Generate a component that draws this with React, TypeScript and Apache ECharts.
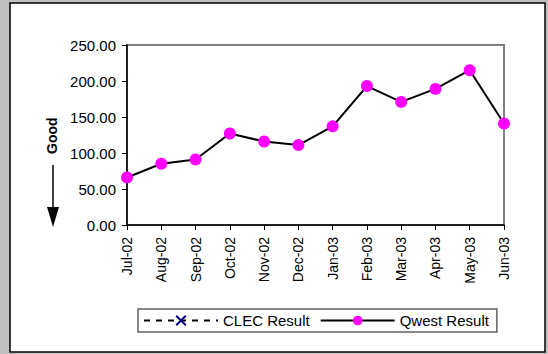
import React, { useEffect, useRef } from "react";
import * as echarts from "echarts";

const categories = [
  "Jul-02", "Aug-02", "Sep-02", "Oct-02", "Nov-02", "Dec-02",
  "Jan-03", "Feb-03", "Mar-03", "Apr-03", "May-03", "Jun-03",
];
const qwestValues = [66, 85, 91, 127, 116, 111, 137, 193, 171, 189, 215, 141];
const clecValues: (number | null)[] = [null, null, null, null, null, null, null, null, null, null, null, null];
const yMin = 0;
const yMax = 250;
const yInterval = 50;

const FONT = "'Liberation Sans', Arial, sans-serif";

export default function App() {
  const ref = useRef<HTMLDivElement>(null);
  useEffect(() => {
    if (!ref.current) return;
    const chart = echarts.init(ref.current, undefined, { renderer: "svg" });
    chart.setOption({
      animation: false,
      backgroundColor: "#c0c0c0",
      textStyle: { fontFamily: FONT },
      graphic: [
        {
          type: "rect",
          z: -10,
          shape: { x: 10, y: 3, width: 535, height: 349 },
          style: { fill: "#ffffff", stroke: "#000000", lineWidth: 1.5 },
        },
        {
          type: "text",
          x: 52,
          y: 154,
          rotation: Math.PI / 2,
          style: {
            text: "Good",
            font: `bold 14px ${FONT}`,
            fill: "#000000",
            align: "left",
            verticalAlign: "middle",
          },
        },
        {
          type: "line",
          shape: { x1: 53, y1: 165, x2: 53, y2: 210 },
          style: { stroke: "#000000", lineWidth: 1.5 },
        },
        {
          type: "polygon",
          shape: { points: [[47, 207], [59, 207], [53, 227]] },
          style: { fill: "#000000" },
        },
      ],
      grid: {
        left: 127,
        top: 45,
        right: 44,
        bottom: 129,
        show: true,
        borderColor: "#808080",
        borderWidth: 2,
        backgroundColor: "#ffffff",
      },
      legend: {
        left: 138,
        top: 309,
        padding: [4, 8, 4, 5],
        itemWidth: 74,
        itemHeight: 12,
        itemGap: 10,
        borderColor: "#606060",
        borderWidth: 1.5,
        textStyle: { fontSize: 15, color: "#000000", fontFamily: FONT },
        data: ["CLEC Result", "Qwest Result"],
      },
      xAxis: {
        type: "category",
        data: categories,
        boundaryGap: false,
        axisLine: { lineStyle: { color: "#000000", width: 1.5 } },
        axisTick: { alignWithLabel: true, length: 5, lineStyle: { color: "#000000" }, interval: 0 },
        axisLabel: {
          rotate: 90,
          interval: 0,
          margin: 12,
          fontSize: 14,
          color: "#000000",
          fontFamily: FONT,
        },
      },
      yAxis: {
        type: "value",
        min: yMin,
        max: yMax,
        interval: yInterval,
        splitLine: { show: false },
        axisLine: { show: true, lineStyle: { color: "#000000", width: 1.5 } },
        axisTick: { show: true, length: 5, lineStyle: { color: "#000000" } },
        axisLabel: {
          fontSize: 15,
          color: "#000000",
          margin: 11,
          fontFamily: FONT,
          formatter: (v: number) => v.toFixed(2),
        },
      },
      series: [
        {
          name: "CLEC Result",
          type: "line",
          data: clecValues,
          symbol: "path://M0,0L10,10M0,10L10,0",
          symbolSize: 10,
          lineStyle: { color: "#000000", width: 2.5, type: [6, 6] },
          itemStyle: { color: "#000080", borderColor: "#000080", borderWidth: 2 },
        },
        {
          name: "Qwest Result",
          type: "line",
          data: qwestValues,
          symbol: "circle",
          symbolSize: 12,
          lineStyle: { color: "#000000", width: 2 },
          itemStyle: { color: "#ff00ff", borderWidth: 0 },
        },
      ],
    });
    return () => chart.dispose();
  }, []);
  return (
    <div style={{ position: "absolute", left: 0, top: 0, width: 548, height: 354 }}>
      <div ref={ref} style={{ width: 548, height: 354 }} />
    </div>
  );
}
